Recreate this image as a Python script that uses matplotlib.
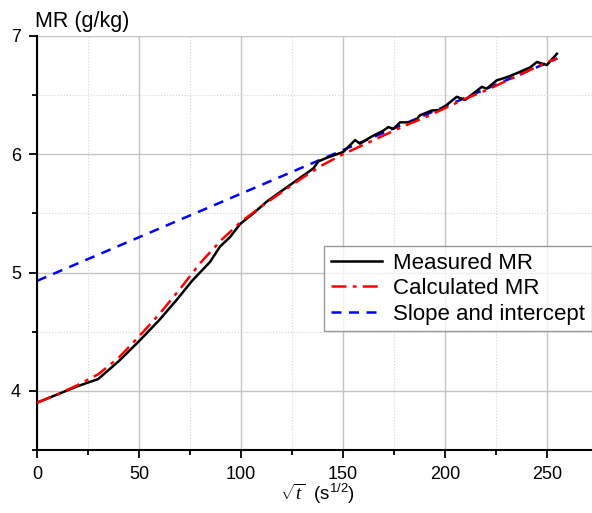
import matplotlib
matplotlib.use("Agg")
import matplotlib.pyplot as plt
from matplotlib.ticker import MultipleLocator

plt.rcParams['font.family'] = ['Liberation Sans', 'DejaVu Sans']
plt.rcParams['mathtext.fontset'] = 'custom'
plt.rcParams['mathtext.rm'] = 'Liberation Sans'
plt.rcParams['mathtext.it'] = 'Liberation Serif:italic'

# measured MR
meas_x = [0, 10, 20, 30, 40, 50, 60, 68.5, 76, 84.8, 89.7, 94.6, 99.5, 106, 112.6,
          120.7, 129.7, 135.4, 137.9, 142, 146.9, 150.1, 155.9, 158.3, 164, 169.7,
          172.2, 174.7, 177.9, 182, 185.3, 187.7, 193.5, 197.5, 201, 205.7, 209.8,
          213.9, 218, 220.4, 225.3, 230, 235.1, 241.7, 245, 249.9, 254.8]
meas_y = [3.90, 3.97, 4.04, 4.10, 4.25, 4.42, 4.60, 4.77, 4.93, 5.09, 5.22, 5.30, 5.41,
          5.50, 5.60, 5.70, 5.81, 5.88, 5.94, 5.97, 6.00, 6.02, 6.12, 6.09, 6.15, 6.20,
          6.23, 6.215, 6.27, 6.27, 6.28, 6.33, 6.37, 6.375, 6.42, 6.486, 6.46, 6.515,
          6.57, 6.555, 6.625, 6.65, 6.685, 6.735, 6.78, 6.755, 6.85]

# calculated MR
calc_x = [0, 10, 20, 30, 40, 50, 60, 70, 80, 90, 100, 110, 120, 130, 140, 150, 160,
          170, 180, 190, 200, 210, 220, 230, 240, 250, 255]
calc_y = [3.90, 3.97, 4.05, 4.14, 4.28, 4.46, 4.65, 4.86, 5.08, 5.27, 5.43, 5.56, 5.68,
          5.80, 5.91, 6.00, 6.08, 6.16, 6.24, 6.31, 6.39, 6.47, 6.54, 6.62, 6.70, 6.78, 6.81]

# slope and intercept line
slope_x = [0, 255]
slope_y = [4.93, 6.81]

fig = plt.figure(figsize=(5.92, 5.13), dpi=100)
ax = fig.add_axes([37/592, 63/513, 1 - 37/592, 414/513])

ax.plot(meas_x, meas_y, color='black', lw=1.8, label='Measured MR', zorder=3)
ax.plot(calc_x, calc_y, color='red', lw=1.8, ls=(0, (6, 2.5, 1.5, 2.5)), label='Calculated MR', zorder=4)
ax.plot(slope_x, slope_y, color='blue', lw=1.8, ls=(0, (4, 3)), label='Slope and intercept', zorder=2)

ax.set_xlim(0, 272)
ax.set_ylim(3.5, 7)
ax.xaxis.set_major_locator(MultipleLocator(50))
ax.xaxis.set_minor_locator(MultipleLocator(25))
ax.yaxis.set_major_locator(MultipleLocator(1))
ax.yaxis.set_minor_locator(MultipleLocator(0.5))
ax.grid(which='major', color='#c4c4c4', lw=1.0, ls='-')
ax.grid(which='minor', color='#d6d6d6', lw=0.8, ls=':')
ax.set_axisbelow(True)

ax.spines['top'].set_visible(False)
ax.spines['right'].set_visible(False)
ax.spines['left'].set_linewidth(1.5)
ax.spines['bottom'].set_linewidth(1.5)
ax.tick_params(which='major', direction='out', length=5.5, width=1.3, labelsize=13, pad=6)
ax.tick_params(which='minor', direction='out', length=3.5, width=1.3)
ax.set_yticks([4, 5, 6, 7])

fig.text(35/592, 1 - 21/513, 'MR (g/kg)', ha='left', va='center', fontsize=15.5)
fig.text(318/592, 1 - 494/513, r'$\sqrt{t}$  (s$^{1/2}$)', ha='center', va='center', fontsize=13.5)

leg = ax.legend(loc='upper right', bbox_to_anchor=(1.0, 1 - 246/513), bbox_transform=fig.transFigure,
                fontsize=16, frameon=True, fancybox=False, handlelength=2.3,
                labelspacing=0.2, borderpad=0.3, handletextpad=0.5, borderaxespad=0)
leg.get_frame().set_edgecolor('#808080')
leg.get_frame().set_linewidth(1.0)

fig.savefig('out.png', dpi=100)
